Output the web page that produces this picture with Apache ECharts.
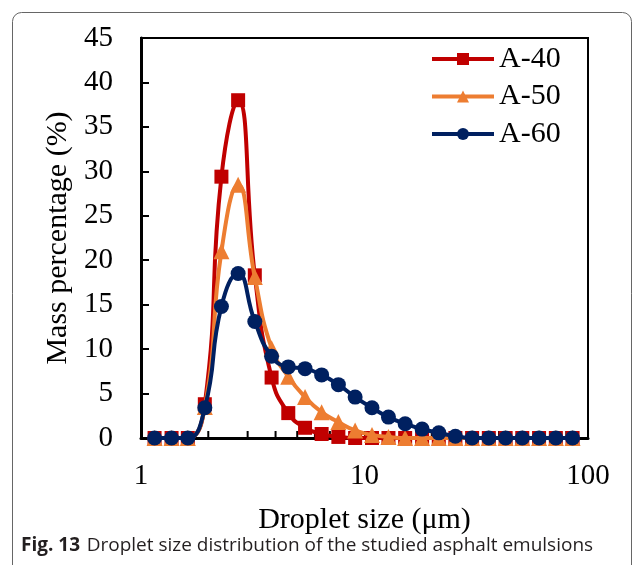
<!DOCTYPE html>
<html>
<head>
<meta charset="utf-8">
<script src="https://cdn.jsdelivr.net/npm/echarts@6/dist/echarts.min.js"></script>
<style>
html,body{margin:0;padding:0;background:#fff;}
#chart{width:637px;height:565px;}
</style>
</head>
<body>
<div id="chart"></div>
<script>
// Droplet size classes (µm)
const sizes = [1.15,1.37,1.62,1.93,2.29,2.72,3.23,3.84,4.56,5.42,6.43,7.64,9.08,10.8,12.8,15.2,18.1,21.5,25.5,30.3,36.0,42.8,50.8,60.4,71.8,85.3];
// Mass percentage (%)
const a40 = [0,0,0,3.8,29.4,38.0,18.3,6.8,2.8,1.15,0.45,0.12,0,0,0,0,0,0,0,0,0,0,0,0,0,0];
const a50 = [0,0,0,3.5,21.0,28.5,18.1,10.1,6.9,4.6,2.9,1.8,0.85,0.35,0.12,0,0,0,0,0,0,0,0,0,0,0];
const a60 = [0,0,0,3.4,14.8,18.5,13.1,9.2,8.0,7.8,7.1,6.0,4.6,3.4,2.35,1.6,1.0,0.58,0.2,0,0,0,0,0,0,0];
const seriesNames = ['A-40','A-50','A-60'];
const colors = ['#C00000','#ED7D31','#002060'];
const symbols = ['rect','triangle','circle'];
const symbolSizes = [14,16,15];
const minorTickValues = [2,3,4,5,6,7,8,9,20,30,40,50,60,70,80,90];
const xTickLabels = ['1','10','100'];

const serif = "'Liberation Serif','Times New Roman',serif";
const chart = echarts.init(document.getElementById('chart'));

function pairs(vals){ return sizes.map((s,i)=>[s, vals[i]]); }
const allData = [a40,a50,a60];

const option = {
  backgroundColor:'#fff',
  animation:false,
  grid:{left:141,right:49,top:38,bottom:127,show:true,borderColor:'#000',borderWidth:2,backgroundColor:'transparent'},
  legend:{
    orient:'vertical', left:430, top:44, padding:0, itemWidth:62, itemHeight:15, itemGap:7.5,
    lineStyle:{width:4},
    textStyle:{fontFamily:serif,fontSize:30,color:'#000',lineHeight:30,padding:[0,0,0,0]},
    data:seriesNames
  },
  xAxis:{
    type:'log', logBase:10, min:1, max:100,
    axisLine:{lineStyle:{color:'#000',width:3}},
    axisTick:{inside:true,length:7,lineStyle:{color:'#000',width:2}},
    axisLabel:{fontFamily:serif,fontSize:29,color:'#000',margin:24,
      formatter:function(v){ const s=String(Math.round(v)); return xTickLabels.indexOf(s)>=0?s:''; }},
    splitLine:{show:false},
    name:'Droplet size (\u03bcm)', nameLocation:'middle', nameGap:67,
    nameTextStyle:{fontFamily:serif,fontSize:30,color:'#000'}
  },
  yAxis:{
    type:'value', min:0, max:45, interval:5,
    axisLine:{show:true,lineStyle:{color:'#000',width:3}},
    axisTick:{show:true,inside:true,length:8,lineStyle:{color:'#000',width:2}},
    axisLabel:{fontFamily:serif,fontSize:29,color:'#000',margin:28},
    splitLine:{show:false},
    name:'Mass percentage (%)', nameLocation:'middle', nameGap:68, nameRotate:90,
    nameTextStyle:{fontFamily:serif,fontSize:30,color:'#000'}
  },
  series: seriesNames.map((n,k)=>({
    name:n, type:'line', data:pairs(allData[k]), smooth:0.5,
    symbol:symbols[k], symbolSize:symbolSizes[k],
    lineStyle:{color:colors[k],width:4},
    itemStyle:{color:colors[k]},
    z:2+k
  }))
};
chart.setOption(option);

// Minor log ticks placed through the library's scale
function drawExtras(){
  const g = [];
  const y0 = chart.convertToPixel({yAxisIndex:0}, 0);
  minorTickValues.forEach(v=>{
    const x = chart.convertToPixel({xAxisIndex:0}, v);
    g.push({type:'line', shape:{x1:x,y1:y0,x2:x,y2:y0-7}, style:{stroke:'#000',lineWidth:2}, z:1});
  });
  // outer figure frame
  g.push({type:'rect', shape:{x:12.5,y:12.5,width:619,height:620,r:9}, style:{fill:'none',stroke:'#666',lineWidth:1}, z:0, silent:true});
  // caption
  g.push({type:'text', left:21, top:536, z:10, style:{
    text:'{b|Fig. 13}  {n|Droplet size distribution of the studied asphalt emulsions}',
    rich:{
      b:{fontFamily:"'Open Sans','Noto Sans',sans-serif",fontWeight:'bold',fontSize:19,fill:'#231f20'},
      n:{fontFamily:"'Open Sans','Noto Sans',sans-serif",fontSize:19,fill:'#231f20'}
    }
  }});
  chart.setOption({graphic:g});
}
drawExtras();
</script>
</body>
</html>
